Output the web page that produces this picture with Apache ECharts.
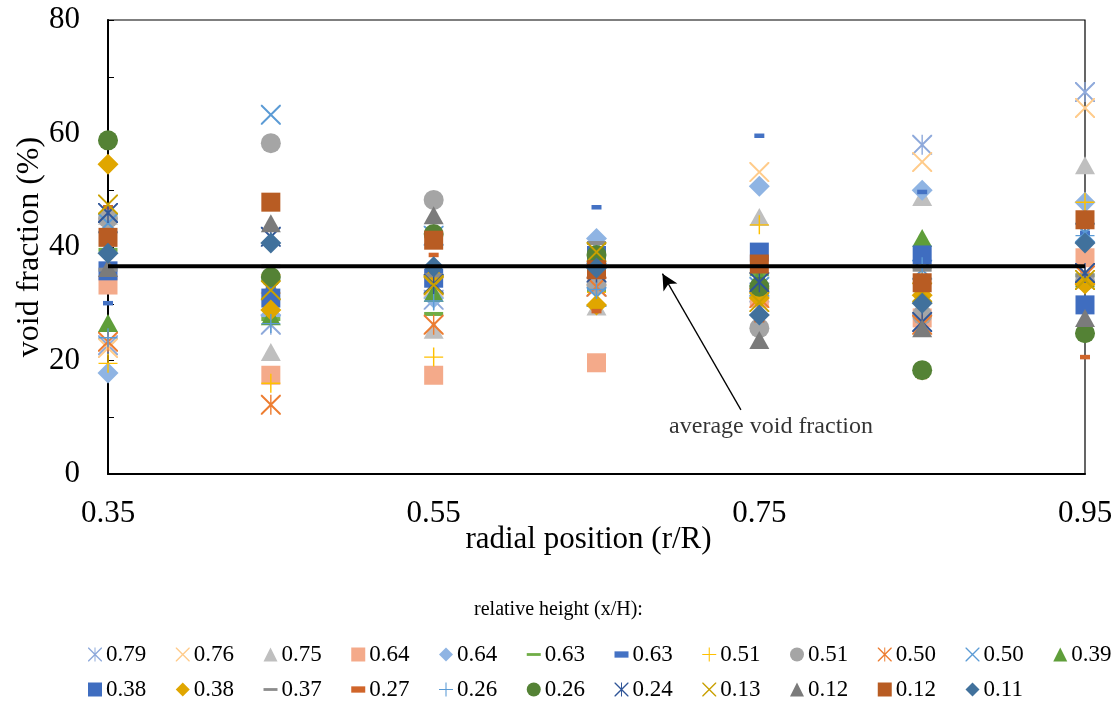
<!DOCTYPE html>
<html>
<head>
<meta charset="utf-8">
<script src="https://cdn.jsdelivr.net/npm/echarts@6/dist/echarts.min.js"></script>
<style>
html,body{margin:0;padding:0;background:#fff;}
#chart{width:1117px;height:706px;}
</style>
</head>
<body>
<div id="chart"></div>
<script>
// radial positions (r/R)
var positions = [0.35, 0.45, 0.55, 0.65, 0.75, 0.85, 0.95];
var xTicks = [0.35, 0.55, 0.75, 0.95];
var yTicks = [0, 20, 40, 60, 80];

// relative height labels, legend order
var heights = ['0.79','0.76','0.75','0.64','0.64','0.63','0.63','0.51','0.51','0.50','0.50','0.39',
               '0.38','0.38','0.37','0.27','0.26','0.26','0.24','0.13','0.12','0.12','0.11'];

// void fraction (%) per series, one value per radial position
var v079 = [22.7, 26.3, 30.7, 33.0, 32.0, 58.0, 67.3];
var v076 = [22.2, 33.5, 33.0, 35.0, 53.2, 55.0, 64.5];
var v075 = [45.5, 21.5, 25.4, 29.5, 45.3, 48.8, 54.4];
var v064a = [33.3, 17.4, 17.4, 19.6, 31.0, 27.5, 38.1];
var v064b = [17.8, 28.0, 31.0, 41.5, 50.7, 50.0, 47.9];
var v063a = [39.5, 27.3, 28.2, 32.4, 35.2, 36.5, 35.0];
var v063b = [30.1, 33.0, 48.8, 47.0, 59.6, 49.7, 42.5];
var v051a = [19.5, 16.0, 20.6, 32.0, 43.9, 36.5, 47.9];
var v051b = [45.0, 58.3, 48.3, 33.3, 25.7, 28.0, 34.0];
var v050a = [23.3, 12.2, 26.3, 33.0, 31.0, 26.3, 35.0];
var v050b = [44.2, 63.3, 42.0, 31.2, 33.0, 36.0, 42.5];
var v039 = [26.6, 27.8, 31.9, 38.0, 34.7, 41.6, 34.5];
var v038a = [35.8, 31.0, 34.5, 38.5, 39.1, 38.6, 29.8];
var v038b = [54.6, 28.9, 34.7, 29.8, 31.0, 31.5, 33.5];
var v037 = [36.0, 36.6, 35.0, 40.7, 33.0, 36.0, 35.0];
var v027 = [47.0, 33.7, 38.6, 28.7, 27.1, 17.1, 20.6];
var v026a = [24.0, 26.5, 30.5, 32.5, 33.5, 36.5, 42.0];
var v026b = [58.8, 34.7, 42.3, 38.6, 33.0, 18.3, 24.8];
var v024 = [46.0, 41.8, 33.5, 35.5, 33.8, 26.8, 35.4];
var v013 = [47.5, 32.4, 33.3, 39.1, 30.3, 32.0, 34.2];
var v012a = [36.3, 44.2, 45.6, 36.0, 23.6, 25.7, 27.5];
var v012b = [41.7, 47.9, 41.2, 36.0, 37.0, 33.7, 44.8];
var v011 = [38.9, 40.7, 36.5, 36.3, 28.0, 30.1, 40.7];

var averageVoid = 36.6;

var allValues = [v079, v076, v075, v064a, v064b, v063a, v063b, v051a, v051b, v050a, v050b, v039,
                 v038a, v038b, v037, v027, v026a, v026b, v024, v013, v012a, v012b, v011];

// marker shapes
var X_PATH = 'path://M0,0L1.4,0L20,18.6L20,20L18.6,20L0,1.4Z M18.6,0L20,0L20,1.4L1.4,20L0,20L0,18.6Z';
var STAR_PATH = X_PATH + ' M9.3,0L10.7,0L10.7,20L9.3,20Z';
var PLUS_PATH = 'path://M9.25,0L10.75,0L10.75,20L9.25,20Z M0,9.25L20,9.25L20,10.75L0,10.75Z';
var DASH_PATH = 'path://M0,0L20,0L20,4L0,4Z';
var SDASH_PATH = 'path://M0,0L20,0L20,9L0,9Z';

var markers = [
  {symbol: STAR_PATH, size: 20, color: '#8EA9DB'},
  {symbol: X_PATH, size: 20, color: '#FFCB8A'},
  {symbol: 'triangle', size: [20, 18], color: '#BFBFBF'},
  {symbol: 'rect', size: 19, color: '#F4AA8A'},
  {symbol: 'diamond', size: 21, color: '#8FB4E3'},
  {symbol: DASH_PATH, size: [19, 4], color: '#70AD47'},
  {symbol: SDASH_PATH, size: [10, 4.5], color: '#4472C4'},
  {symbol: PLUS_PATH, size: 19, color: '#FFC000'},
  {symbol: 'circle', size: 20, color: '#A5A5A5'},
  {symbol: STAR_PATH, size: 20, color: '#ED7D31'},
  {symbol: X_PATH, size: 20, color: '#5B9BD5'},
  {symbol: 'triangle', size: [20, 18], color: '#5F9E3A'},
  {symbol: 'rect', size: 19, color: '#3F6DC0'},
  {symbol: 'diamond', size: 21, color: '#E0A600'},
  {symbol: DASH_PATH, size: [19, 4], color: '#8C8C8C'},
  {symbol: SDASH_PATH, size: [10, 4.5], color: '#D0652A'},
  {symbol: PLUS_PATH, size: 19, color: '#5B9BD5'},
  {symbol: 'circle', size: 20, color: '#548235'},
  {symbol: STAR_PATH, size: 20, color: '#2F5597'},
  {symbol: X_PATH, size: 20, color: '#C9A000'},
  {symbol: 'triangle', size: [20, 18], color: '#7B7B7B'},
  {symbol: 'rect', size: 19, color: '#B85C23'},
  {symbol: 'diamond', size: 21, color: '#41719C'}
];

var FONT = '"Liberation Serif", "Times New Roman", serif';

var chart = echarts.init(document.getElementById('chart'));

var series = [{
  type: 'line',
  data: [[positions[0], averageVoid], [positions[positions.length - 1], averageVoid]],
  symbol: 'none',
  silent: true,
  lineStyle: {color: '#000', width: 4},
  markLine: {
    silent: true,
    symbol: ['none', 'arrow'],
    symbolSize: [12, 16],
    lineStyle: {color: '#000', width: 1.3, type: 'solid'},
    label: {show: false},
    data: [[{coord: [0.7387, 11.3]}, {coord: [0.6905, 35.3]}]]
  }
}, {
  type: 'scatter',
  silent: true,
  symbolSize: 0,
  data: [[0.7572, 8.4]],
  label: {
    show: true, position: 'inside', formatter: 'average void fraction',
    color: '#000', fontFamily: FONT, fontSize: 24
  }
}];

var names = [];
heights.forEach(function (h, i) {
  var id = 's' + i;
  names.push(id);
  series.push({
    name: id,
    type: 'scatter',
    symbol: markers[i].symbol,
    symbolSize: markers[i].size,
    itemStyle: {color: markers[i].color, opacity: 1},
    data: positions.map(function (x, k) { return [x, allValues[i][k]]; })
  });
});

function legendFormatter(name) {
  return heights[+name.slice(1)];
}

var legendBase = {
  orient: 'horizontal',
  left: 88,
  width: 1060,
  padding: 0,
  itemWidth: 14,
  itemHeight: 14,
  itemGap: 29.5,
  selectedMode: false,
  formatter: legendFormatter,
  textStyle: {fontFamily: FONT, fontSize: 23, color: '#000', padding: [0, 0, 0, -1]}
};

chart.setOption({
  animation: false,
  backgroundColor: '#fff',
  title: {
    text: 'relative height (x/H):',
    left: 'center',
    top: 595,
    textStyle: {fontFamily: FONT, fontSize: 20, fontWeight: 'normal', color: '#000'}
  },
  legend: [
    Object.assign({}, legendBase, {top: 643, data: names.slice(0, 12)}),
    Object.assign({}, legendBase, {top: 678, data: names.slice(12)})
  ],
  grid: {
    left: 108, right: 32, top: 20, bottom: 232,
    outerBoundsMode: 'none',
    show: true, borderColor: '#000', borderWidth: 1.2
  },
  xAxis: {
    type: 'value',
    min: xTicks[0],
    max: xTicks[xTicks.length - 1],
    interval: 0.2,
    name: 'radial position (r/R)',
    nameLocation: 'middle',
    nameGap: 50,
    nameMoveOverlap: false,
    nameTextStyle: {fontFamily: FONT, fontSize: 31, color: '#000', padding: [0, 16, 0, 0]},
    axisLine: {lineStyle: {color: '#000', width: 2}},
    axisTick: {show: false},
    splitLine: {show: false},
    axisLabel: {
      margin: 24, fontFamily: FONT, fontSize: 31, color: '#000',
      formatter: function (v) { return v.toFixed(2); }
    }
  },
  yAxis: {
    type: 'value',
    min: yTicks[0],
    max: yTicks[yTicks.length - 1],
    interval: 10,
    name: 'void fraction (%)',
    nameLocation: 'middle',
    nameGap: 62,
    nameMoveOverlap: false,
    nameTextStyle: {fontFamily: FONT, fontSize: 32, color: '#000'},
    axisLine: {show: true, lineStyle: {color: '#000', width: 2}},
    axisTick: {show: true, inside: true, length: 6, lineStyle: {color: '#000', width: 1}},
    splitLine: {show: false},
    axisLabel: {
      margin: 28, fontFamily: FONT, fontSize: 31, color: '#000',
      formatter: function (v) { return yTicks.indexOf(v) >= 0 ? String(v) : ''; }
    }
  },
  series: series
});

window.addEventListener('resize', chart.resize);
</script>
</body>
</html>
